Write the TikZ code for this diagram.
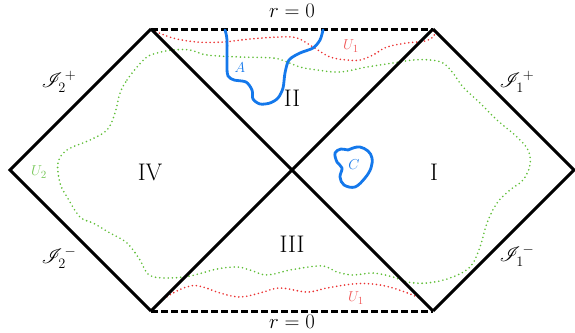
\documentclass[tikz,border=0pt]{standalone}
\usepackage{mathrsfs}
\definecolor{bl}{RGB}{20,120,235}
\definecolor{rd}{RGB}{235,50,50}
\definecolor{gr}{RGB}{95,190,55}
\definecolor{rdl}{RGB}{240,90,90}
\definecolor{grl}{RGB}{120,200,90}
\begin{document}
\begin{tikzpicture}[x=1pt,y=-1pt,
  edge/.style={line width=3pt,black},
  sing/.style={line width=3pt,black,dash pattern=on 6.5pt off 3.5pt},
  dotr/.style={rd,line width=1.8pt,dash pattern=on 0pt off 4pt,line cap=round},
  dotg/.style={gr,line width=1.8pt,dash pattern=on 0pt off 4.2pt,line cap=round},
  bcurve/.style={bl,line width=2.8pt,line cap=round,line join=round},
  region/.style={font=\fontsize{24}{28}\selectfont},
  small/.style={font=\fontsize{15}{17}\selectfont},
  lab/.style={font=\fontsize{20}{24}\selectfont}]
\useasboundingbox (0,0) rectangle (575,332);
\coordinate (L) at (10,170);
\coordinate (T1) at (151,29);
\coordinate (T2) at (433,29);
\coordinate (R) at (574,170);
\coordinate (B1) at (151,311);
\coordinate (B2) at (433,311);
\coordinate (C) at (292,170);
% green loop
\draw[dotg] plot[smooth cycle,tension=0.6] coordinates {
(120,93)(127,80)(137,67)(147,57)(157,53)(173,50)(190,50)(207,55)(240,57)(273,58)(287,62)(300,67)(317,70)(340,72)(367,67)(393,63)(413,60)(430,60)(443,63)(453,73)(463,87)(480,103)(497,120)(517,137)(528,150)(530,165)(523,180)(510,190)(497,203)(487,223)(480,247)(470,267)(450,278)(427,283)(407,282)(393,277)(373,273)(353,275)(337,272)(327,267)(317,266)(290,270)(267,275)(250,270)(237,267)(217,269)(190,276)(167,278)(149,275)(140,260)(127,243)(110,233)(93,223)(80,217)(67,197)(60,183)(58,163)(67,150)(90,140)(107,130)(115,113)};
% red curves
\draw[dotr] plot[smooth,tension=0.6] coordinates {
(152,30)(173,38)(197,42)(223,42)(250,39)(280,37)(297,38)(313,47)(330,57)(347,60)(360,60)(373,55)(387,47)(407,43)(425,41)(434,36)(433,30)};
\draw[dotr] plot[smooth,tension=0.6] coordinates {
(152,310)(160,302)(173,293)(190,286)(203,287)(220,293)(240,297)(260,293)(280,288)(307,292)(327,288)(353,284)(373,284)(393,288)(417,297)(427,305)(432,310)};
% edges
\draw[edge,line join=miter] (T1) -- (L) -- (B1);
\draw[edge,line join=miter] (T2) -- (R) -- (B2);
\draw[edge] (T1) -- (C) -- (B2);
\draw[edge] (T2) -- (C) -- (B1);
\draw[sing] (T1) -- (T2);
\draw[sing] (B1) -- (B2);
% blue curves
\draw[bcurve] plot[smooth,tension=0.5] coordinates {
(225,30)(227,40)(227,67)(228,76)(234,80)(246,82)(252,90)(253,99)(260,104)(270,103)(278,98)(283,88)(285,73)(289,60)(300,53)(313,48)(320,40)(323,30)};
\draw[bcurve] plot[smooth cycle,tension=0.6] coordinates {
(335,153)(341,149)(348,150)(353,148)(360,147)(368,151)(372,158)(371,168)(365,178)(355,187)(344,185)(340,177)(342,168)(337,162)};
% labels
\node[lab] (r0t) at (292,11) {$r=0$};
\node[lab] (r0b) at (292,322) {$r=0$};
\node[region] (rII) at (292,98) {II};
\node[region] (rI) at (434,172) {I};
\node[region] (rIV) at (150,172) {IV};
\node[region] (rIII) at (292,244) {III};
\node[lab] (s2p) at (59,82) {$\mathscr{I}_2^{\,+}$};
\node[lab] (s2m) at (59,258) {$\mathscr{I}_2^{\,-}$};
\node[lab] (s1p) at (517,82) {$\mathscr{I}_1^{\,+}$};
\node[lab] (s1m) at (517,256) {$\mathscr{I}_1^{\,-}$};
\node[small,text=grl] (u2) at (39,172) {$U_2$};
\node[small,text=rdl] (u1t) at (351,46) {$U_1$};
\node[small,text=rdl] (u1b) at (356,298) {$U_1$};
\node[small,text=bl] (la) at (240,68) {$A$};
\node[small,text=bl] (lc) at (354,165) {$C$};
\end{tikzpicture}
\end{document}
